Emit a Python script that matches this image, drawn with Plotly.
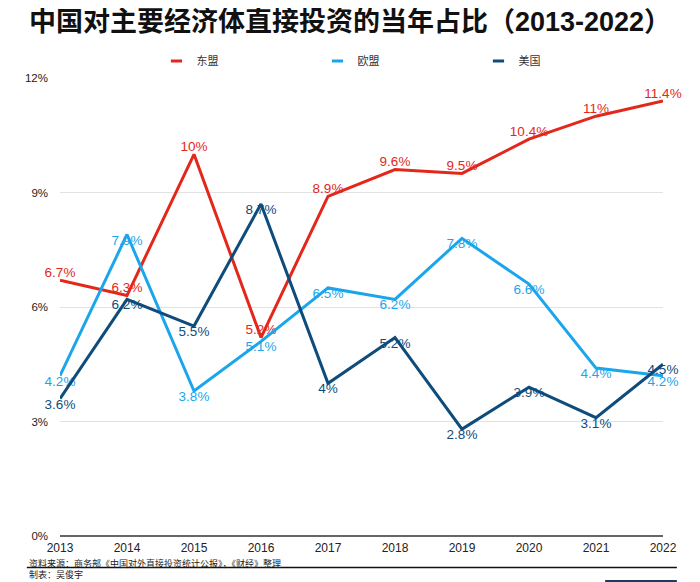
import plotly.graph_objects as go

years = [2013, 2014, 2015, 2016, 2017, 2018, 2019, 2020, 2021, 2022]
asean = [6.7, 6.3, 10, 5.2, 8.9, 9.6, 9.5, 10.4, 11, 11.4]
eu = [4.2, 7.9, 3.8, 5.1, 6.5, 6.2, 7.8, 6.6, 4.4, 4.2]
us = [3.6, 6.2, 5.5, 8.7, 4, 5.2, 2.8, 3.9, 3.1, 4.5]
series_names = ["东盟", "欧盟", "美国"]
colors = ["#E3281B", "#1BA6EC", "#0E4C7C"]
y_ticks = [0, 3, 6, 9, 12]
y_tick_labels = ["0%", "3%", "6%", "9%", "12%"]

FONT = "Liberation Sans, Arial, Noto Sans CJK SC, sans-serif"

def fmt(v):
    return (f"{v:g}") + "%"

fig = go.Figure()
positions = ["top center", "bottom center", "bottom center"]
for name, vals, col, pos in zip(series_names, [asean, eu, us], colors, positions):
    fig.add_trace(go.Scatter(
        x=years, y=vals, mode="lines+text", name=name,
        line=dict(color=col, width=3),
        text=[fmt(v) for v in vals], textposition=pos,
        textfont=dict(color=col, size=13.5, family=FONT),
        cliponaxis=False, showlegend=False,
    ))
# legend entries
for name, col in zip(series_names, colors):
    fig.add_trace(go.Scatter(
        x=[None], y=[None], mode="markers", name=name,
        marker=dict(symbol="line-ew", size=8, line=dict(color=col, width=3)),
        showlegend=True,
    ))

# page body has an 8px margin: figure is 8px smaller so it fills the 700x582 window
fig.update_layout(
    width=692, height=574,
    margin=dict(l=52, r=37, t=70, b=46),
    plot_bgcolor="white", paper_bgcolor="white",
    font=dict(family=FONT, color="#222"),
    title=dict(text="<b>中国对主要经济体直接投资的当年占比（2013-2022）</b>",
               x=0.5 - 4 / 692, xanchor="center", y=1 - 14 / 574, yanchor="middle",
               font=dict(size=27, color="#111", family="Liberation Sans, Noto Sans CJK SC")),
    legend=dict(orientation="h", x=0.16, xanchor="left", y=1.037, yanchor="middle",
                entrywidth=116, entrywidthmode="pixels",
                font=dict(size=11, color="#333", family="Noto Sans CJK SC"),
                itemwidth=30, bgcolor="rgba(0,0,0,0)"),
    xaxis=dict(range=[2013, 2022], tickvals=years, ticktext=[str(y) for y in years],
               showgrid=False, zeroline=False, showline=False, ticks="",
               tickfont=dict(size=12, color="#222"), ticklabelstandoff=3),
    yaxis=dict(range=[0, 12], tickvals=y_ticks, ticktext=y_tick_labels,
               showgrid=True, gridcolor="#E2E2E2", gridwidth=1,
               zeroline=True, zerolinecolor="#666", zerolinewidth=1.5,
               showline=False, ticks="", tickfont=dict(size=11.5, color="#222"),
               ticklabelstandoff=11),
)

fig.add_annotation(text="资料来源：商务部《中国对外直接投资统计公报》，《财经》整理",
                   xref="paper", yref="paper", x=-0.055, y=-0.059, xanchor="left", yanchor="middle",
                   showarrow=False, font=dict(size=9, color="#222", family="Noto Sans CJK SC"))
fig.add_annotation(text="制表：吴俊宇",
                   xref="paper", yref="paper", x=-0.055, y=-0.083, xanchor="left", yanchor="middle",
                   showarrow=False, font=dict(size=9, color="#222", family="Noto Sans CJK SC"))
fig.add_shape(type="line", xref="paper", yref="paper", x0=-0.055, x1=1.023, y0=-0.069, y1=-0.069,
              line=dict(color="#111", width=1.5))
fig.add_shape(type="rect", xref="paper", yref="paper", x0=0.904, x1=1.023, y0=-0.096, y1=-0.104,
              line=dict(width=0), fillcolor="#1E3A5F")

fig.write_html("out.html")
